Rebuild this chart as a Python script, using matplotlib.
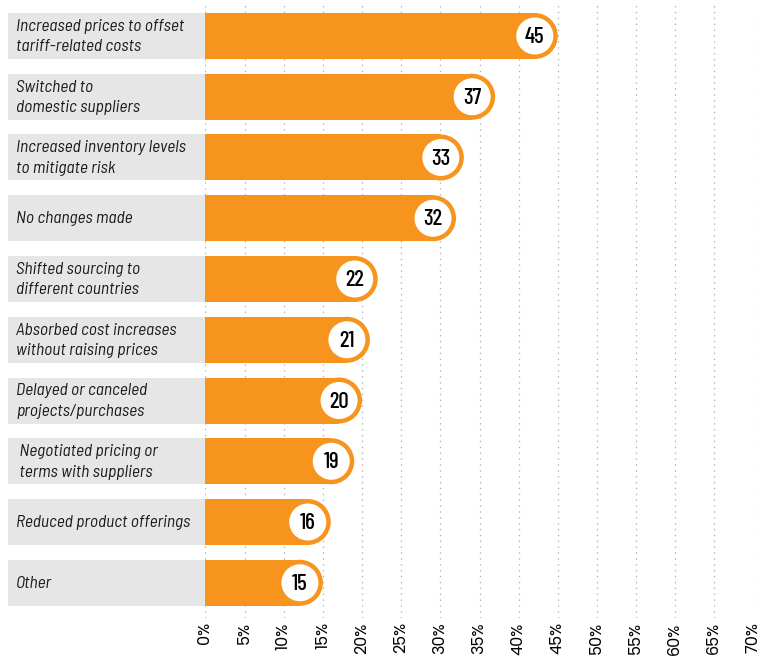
import matplotlib
matplotlib.use("Agg")
import matplotlib.pyplot as plt
from matplotlib.patches import Ellipse, Rectangle

# Survey responses: actions taken in response to tariffs (% of respondents)
categories = [
    "Increased prices to offset\ntariff-related costs",
    "Switched to\ndomestic suppliers",
    "Increased inventory levels\nto mitigate risk",
    "No changes made",
    "Shifted sourcing to\ndifferent countries",
    "Absorbed cost increases\nwithout raising prices",
    "Delayed or canceled\nprojects/purchases",
    " Negotiated pricing or\n terms with suppliers",
    "Reduced product offerings",
    "Other",
]
values = [45, 37, 33, 32, 22, 21, 20, 19, 16, 15]
tick_values = list(range(0, 75, 5))
tick_labels = [f"{v}%" for v in tick_values]

ORANGE = "#F7941D"
LABEL_BG = "#E6E6E6"
GRID = "#B5B5B5"

LABEL_FONT = ["Barlow Semi Condensed", "DejaVu Sans"]
VALUE_FONT = ["Barlow Condensed", "DejaVu Sans"]
TICK_FONT = ["Poppins", "DejaVu Sans"]

W, H, DPI = 766, 657, 100
fig = plt.figure(figsize=(W / DPI, H / DPI), dpi=DPI)
fig.patch.set_facecolor("white")

# Plot area in pixels
left_px, right_px, top_px, bottom_px = 205.5, 753.5, 5, 618
ax = fig.add_axes([left_px / W, 1 - bottom_px / H,
                   (right_px - left_px) / W, (bottom_px - top_px) / H])

xmax = 70
ymin, ymax = -0.51, len(values) - 1 + 0.58
ax.set_xlim(0, xmax)
ax.set_ylim(ymax, ymin)

px_x = (right_px - left_px) / xmax          # pixels per percent
px_y = (bottom_px - top_px) / (ymax - ymin)  # pixels per row unit

bar_h = 46 / px_y
r_x = (bar_h / 2) * px_y / px_x            # end-cap radius in x units
circ_r_px = 18.5

for i, (cat, v) in enumerate(zip(categories, values)):
    # grey label panel to the left of the plot area
    panel_left = -(left_px - 8) / px_x
    ax.add_patch(Rectangle((panel_left, i - bar_h / 2), -panel_left, bar_h,
                           facecolor=LABEL_BG, edgecolor="none",
                           clip_on=False, zorder=2))
    ax.text(panel_left + 8 / px_x, i + 0.01, cat, ha="left", va="center",
            fontsize=12.5, style="italic", family=LABEL_FONT, color="#1a1a1a",
            linespacing=1.45, clip_on=False, zorder=3)

    # bar body with rounded right end
    ax.barh(i, v - r_x, height=bar_h, left=0, color=ORANGE,
            edgecolor="none", zorder=2)
    ax.add_patch(Ellipse((v - r_x, i), 2 * r_x, bar_h,
                         facecolor=ORANGE, edgecolor="none", zorder=2))
    # value badge
    ax.add_patch(Ellipse((v - r_x, i), 2 * circ_r_px / px_x, 2 * circ_r_px / px_y,
                         facecolor="white", edgecolor="none", zorder=3))
    ax.text(v - r_x, i + 0.02, str(v), ha="center", va="center",
            fontsize=16.5, fontweight="medium", family=VALUE_FONT, color="black",
            zorder=4)

ax.set_xticks(tick_values)
ax.set_xticklabels(tick_labels, rotation=90, fontsize=11.5,
                   family=TICK_FONT, color="black")
ax.tick_params(axis="x", length=0, pad=3)
ax.tick_params(axis="y", left=False, labelleft=False)
ax.set_yticks([])

ax.xaxis.grid(True, color=GRID, linewidth=0.9, linestyle=(0, (1.2, 3.5)))
ax.set_axisbelow(True)
for s in ax.spines.values():
    s.set_visible(False)

fig.savefig("out.png", dpi=DPI, facecolor="white")
